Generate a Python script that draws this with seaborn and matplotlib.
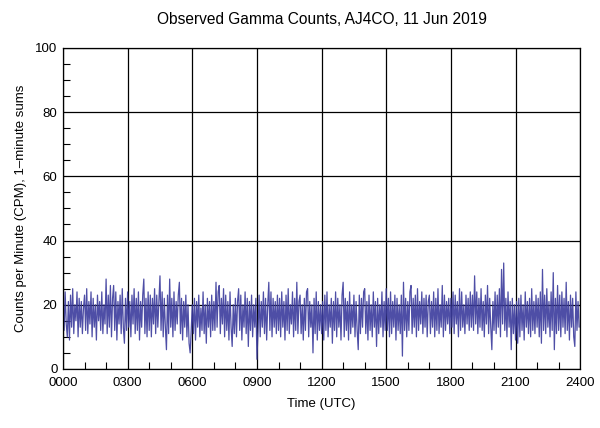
import numpy as np
import pandas as pd
import seaborn as sns
import matplotlib.pyplot as plt
from matplotlib.ticker import MultipleLocator, FuncFormatter

counts_00_06 = [
    22, 12, 24, 14, 10, 21, 9, 23, 13, 25, 11, 20, 15, 24, 10, 22, 13, 21, 11, 19,
    23, 12, 25, 11, 21, 14, 24, 10, 22, 13, 20, 9, 23, 15, 21, 12, 24, 11, 20, 14,
    28, 11, 23, 13, 26, 10, 22, 26, 12, 24, 9, 21, 14, 23, 11, 25, 13, 8, 22, 12,
    24, 13, 21, 10, 23, 14, 25, 11, 22, 12, 24, 9, 21, 13, 23, 28, 11, 22, 10, 24,
    12, 23, 10, 22, 14, 25, 11, 23, 13, 21, 29, 12, 24, 10, 22, 13, 6, 23, 11, 28,
    13, 22, 10, 24, 12, 21, 14, 23, 27, 11, 22, 9, 21, 13, 23, 10, 20, 8, 5, 12,
]
counts_06_12 = [
    20, 11, 22, 9, 21, 13, 23, 10, 19, 12, 24, 11, 20, 8, 22, 13, 21, 10, 23, 12,
    21, 12, 27, 13, 24, 26, 11, 22, 14, 25, 10, 23, 12, 21, 9, 24, 13, 7, 20, 11,
    22, 10, 21, 25, 12, 23, 9, 20, 13, 24, 11, 22, 7, 21, 12, 23, 10, 20, 13, 22,
    3, 12, 23, 10, 21, 13, 24, 11, 22, 9, 20, 27, 12, 24, 10, 22, 13, 21, 11, 23,
    12, 22, 10, 24, 13, 21, 9, 23, 12, 25, 11, 20, 14, 24, 10, 22, 12, 27, 11, 21,
    23, 11, 20, 9, 22, 12, 24, 25, 10, 21, 13, 20, 5, 22, 11, 24, 9, 21, 12, 20,
]
counts_12_18 = [
    11, 21, 9, 23, 12, 24, 10, 20, 13, 22, 8, 21, 12, 24, 10, 22, 13, 20, 9, 23,
    27, 10, 22, 12, 21, 9, 24, 11, 20, 13, 23, 10, 21, 12, 6, 23, 11, 22, 13, 24,
    25, 11, 21, 9, 23, 12, 20, 10, 24, 13, 21, 7, 22, 11, 20, 13, 24, 10, 21, 12,
    25, 12, 22, 10, 24, 11, 21, 13, 23, 9, 22, 12, 20, 11, 23, 4, 27, 12, 22, 10,
    21, 12, 24, 26, 11, 22, 13, 23, 10, 25, 12, 21, 14, 24, 11, 22, 13, 23, 10, 21,
    23, 11, 21, 13, 24, 10, 22, 12, 25, 11, 20, 13, 26, 10, 23, 12, 21, 14, 22, 11,
]
counts_18_24 = [
    22, 13, 24, 11, 23, 14, 21, 10, 25, 12, 24, 13, 20, 11, 23, 14, 22, 12, 24, 13,
    23, 12, 29, 14, 24, 11, 22, 13, 25, 12, 21, 10, 23, 14, 26, 11, 22, 13, 6, 21,
    12, 24, 11, 23, 13, 25, 10, 31, 14, 33, 12, 22, 10, 24, 13, 21, 6, 22, 11, 20,
    9, 21, 8, 22, 10, 23, 12, 20, 9, 24, 13, 21, 11, 22, 10, 25, 12, 21, 11, 23,
    13, 22, 10, 24, 8, 31, 12, 23, 11, 25, 13, 21, 10, 24, 12, 30, 6, 22, 11, 26,
    12, 23, 10, 24, 13, 22, 11, 27, 12, 21, 9, 23, 13, 22, 10, 7, 24, 12, 21, 13,
]

counts = counts_00_06 + counts_06_12 + counts_12_18 + counts_18_24
df = pd.DataFrame({"cpm": counts})
df["godzina"] = np.linspace(0, 24, len(df), endpoint=False)

sns.set_theme(style="white")
plt.rcParams["font.family"] = ["Liberation Sans", "DejaVu Sans"]
plt.rcParams["text.color"] = "black"
plt.rcParams["axes.labelcolor"] = "black"

fig = plt.figure(figsize=(6.0, 4.28), dpi=100)
ax = fig.add_axes([0.105, 0.138, 0.862, 0.750])

sns.lineplot(data=df, x="godzina", y="cpm", ax=ax, color="#3b3b9c",
             linewidth=0.9, alpha=0.9)

ax.set_xlim(0, 24)
ax.set_ylim(0, 100)
ax.xaxis.set_major_locator(MultipleLocator(3))
ax.xaxis.set_minor_locator(MultipleLocator(1))
ax.yaxis.set_major_locator(MultipleLocator(20))
ax.yaxis.set_minor_locator(MultipleLocator(5))
ax.xaxis.set_major_formatter(FuncFormatter(lambda v, p: f"{int(v):02d}00"))

ax.grid(True, which="major", color="black", linewidth=0.9)
ax.tick_params(which="both", direction="in", colors="black", labelsize=9.5,
               bottom=True, left=True, top=False, right=False)
ax.tick_params(which="major", length=0)
ax.tick_params(axis="x", which="major", pad=6)
ax.tick_params(axis="y", which="major", pad=4)
ax.tick_params(which="minor", length=5, width=0.8)
for s in ax.spines.values():
    s.set_color("black")
    s.set_linewidth(0.9)

ax.set_title("Observed Gamma Counts, AJ4CO, 11 Jun 2019", fontsize=11.2, pad=17,
             color="black")
ax.set_xlabel("Time (UTC)", fontsize=9.5, labelpad=6)
ax.set_ylabel("Counts per Minute (CPM), 1\u2013minute sums", fontsize=9.5, labelpad=6)

fig.savefig("out.png", dpi=100, facecolor="white")
